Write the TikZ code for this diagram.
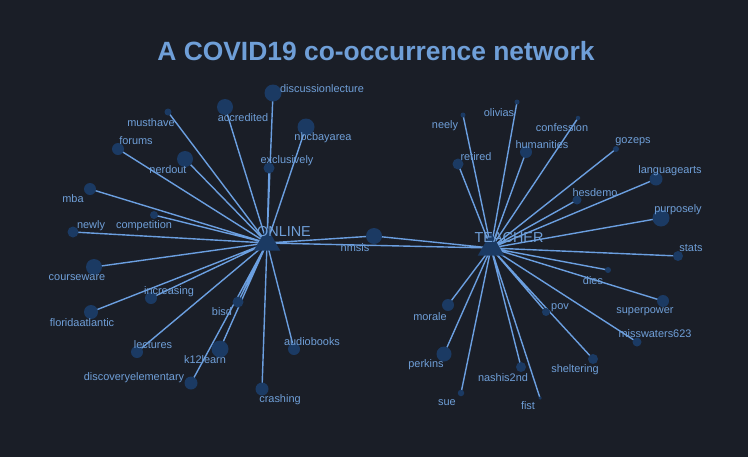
\documentclass[tikz,border=0pt]{standalone}
\usepackage{fontspec}
\setmainfont{Liberation Sans}
\usetikzlibrary{shapes.geometric}

\definecolor{bgcol}{HTML}{1A1E27}
\definecolor{nodefill}{HTML}{1B3A63}
\definecolor{edgecol}{HTML}{6B9FE0}
\definecolor{labelcol}{HTML}{6F9FD8}

\pgfdeclarelayer{bg}
\pgfdeclarelayer{edges}
\pgfsetlayers{bg,edges,main}

\tikzset{dot/.style={circle,fill=nodefill,inner sep=0pt,minimum size=#1*0.75pt}}
\tikzset{hub/.style={regular polygon,regular polygon sides=3,fill=nodefill,inner sep=0pt,minimum size=23pt}}
\tikzset{word/.style={text=labelcol,inner sep=0pt,font=\fontsize{8.2}{10}\selectfont}}
\tikzstyle{link}=[draw=edgecol,line width=1.05pt]

\begin{document}
\begin{tikzpicture}[x=0.75pt,y=-0.75pt]
            \useasboundingbox (0,0) rectangle (748,457);
            \begin{pgfonlayer}{bg}
                \fill [bgcol] (0,0) rectangle (748,457);
            \end{pgfonlayer}

            \node [text=labelcol,font=\bfseries\fontsize{19.8}{24}\selectfont] (title) at (376,51) {A COVID19 co-occurrence network};

            % hubs
            \node [hub] (online) at (267,243) {};
            \node [hub] (teacher) at (491,248) {};
            \node [word,font=\fontsize{10.8}{13}\selectfont] (online-t) at (284,232) {ONLINE};
            \node [word,font=\fontsize{10.8}{13}\selectfont] (teacher-t) at (509,238) {TEACHER};
            \node [dot=16] (nmsis) at (374,236) {};

            % online side
            \node [dot=17] (discussionlecture) at (273,93) {};
            \node [dot=16] (accredited) at (225,107) {};
            \node [dot=7] (musthave) at (168,112) {};
            \node [dot=17] (nbcbayarea) at (306,127) {};
            \node [dot=12] (forums) at (118,149) {};
            \node [dot=16] (nerdout) at (185,159) {};
            \node [dot=11] (exclusively) at (269,168) {};
            \node [dot=12] (mba) at (90,189) {};
            \node [dot=8] (competition) at (154,215) {};
            \node [dot=11] (newly) at (73,232) {};
            \node [dot=16] (courseware) at (94,267) {};
            \node [dot=12] (increasing) at (151,298) {};
            \node [dot=14] (floridaatlantic) at (91,312) {};
            \node [dot=11] (bisd) at (238,302) {};
            \node [dot=12] (lectures) at (137,352) {};
            \node [dot=17] (k12learn) at (220,349) {};
            \node [dot=12] (audiobooks) at (294,349) {};
            \node [dot=13] (discoveryelementary) at (191,383) {};
            \node [dot=13] (crashing) at (262,389) {};

            % teacher side
            \node [dot=5] (neely) at (463,115) {};
            \node [dot=5] (olivias) at (517,102) {};
            \node [dot=4.5] (confession) at (578,118) {};
            \node [dot=12] (humanities) at (526,152) {};
            \node [dot=11] (retired) at (458,164) {};
            \node [dot=6] (gozeps) at (616,149) {};
            \node [dot=13] (languagearts) at (656,179) {};
            \node [dot=9] (hesdemo) at (577,200) {};
            \node [dot=17] (purposely) at (661,218) {};
            \node [dot=10] (stats) at (678,256) {};
            \node [dot=6] (dies) at (608,270) {};
            \node [dot=12] (superpower) at (663,301) {};
            \node [dot=8] (pov) at (546,312) {};
            \node [dot=12] (morale) at (448,305) {};
            \node [dot=9] (misswaters623) at (637,342) {};
            \node [dot=15] (perkins) at (444,354) {};
            \node [dot=10] (sheltering) at (593,359) {};
            \node [dot=10] (nashis2nd) at (521,367) {};
            \node [dot=6.5] (sue) at (461,393) {};
            \node [dot=3.5] (fist) at (540,398) {};

            \begin{pgfonlayer}{edges}
                \draw [link] (online.center) -- (teacher.center)
                    (online.center) -- (nmsis.center) -- (teacher.center)
                    (online.center) -- (discussionlecture.center)
                    (online.center) -- (accredited.center)
                    (online.center) -- (musthave.center)
                    (online.center) -- (nbcbayarea.center)
                    (online.center) -- (forums.center)
                    (online.center) -- (nerdout.center)
                    (online.center) -- (exclusively.center)
                    (online.center) -- (mba.center)
                    (online.center) -- (competition.center)
                    (online.center) -- (newly.center)
                    (online.center) -- (courseware.center)
                    (online.center) -- (increasing.center)
                    (online.center) -- (floridaatlantic.center)
                    (online.center) -- (bisd.center)
                    (online.center) -- (lectures.center)
                    (online.center) -- (k12learn.center)
                    (online.center) -- (audiobooks.center)
                    (online.center) -- (discoveryelementary.center)
                    (online.center) -- (crashing.center);
                \draw [link] (teacher.center) -- (neely.center)
                    (teacher.center) -- (olivias.center)
                    (teacher.center) -- (confession.center)
                    (teacher.center) -- (humanities.center)
                    (teacher.center) -- (retired.center)
                    (teacher.center) -- (gozeps.center)
                    (teacher.center) -- (languagearts.center)
                    (teacher.center) -- (hesdemo.center)
                    (teacher.center) -- (purposely.center)
                    (teacher.center) -- (stats.center)
                    (teacher.center) -- (dies.center)
                    (teacher.center) -- (superpower.center)
                    (teacher.center) -- (pov.center)
                    (teacher.center) -- (morale.center)
                    (teacher.center) -- (misswaters623.center)
                    (teacher.center) -- (perkins.center)
                    (teacher.center) -- (sheltering.center)
                    (teacher.center) -- (nashis2nd.center)
                    (teacher.center) -- (sue.center)
                    (teacher.center) -- (fist.center);
            \end{pgfonlayer}

            % word labels
            \node [word] (nmsis-t) at (355,248) {nmsis};
            \node [word] (discussionlecture-t) at (322,89) {discussionlecture};
            \node [word] (accredited-t) at (243,118) {accredited};
            \node [word] (musthave-t) at (151,123) {musthave};
            \node [word] (nbcbayarea-t) at (323,138) {nbcbayarea};
            \node [word] (forums-t) at (136,141) {forums};
            \node [word] (nerdout-t) at (168,170) {nerdout};
            \node [word] (exclusively-t) at (287,161) {exclusively};
            \node [word] (mba-t) at (73,199) {mba};
            \node [word] (competition-t) at (144,226) {competition};
            \node [word] (newly-t) at (91,226) {newly};
            \node [word] (courseware-t) at (77,278) {courseware};
            \node [word] (increasing-t) at (169,292) {increasing};
            \node [word] (floridaatlantic-t) at (82,323) {floridaatlantic};
            \node [word] (bisd-t) at (222,312) {bisd};
            \node [word] (lectures-t) at (153,345) {lectures};
            \node [word] (k12learn-t) at (205,360) {k12learn};
            \node [word] (audiobooks-t) at (312,342) {audiobooks};
            \node [word] (discoveryelementary-t) at (134,378) {discoveryelementary};
            \node [word] (crashing-t) at (280,400) {crashing};
            \node [word] (neely-t) at (445,126) {neely};
            \node [word] (olivias-t) at (499,113) {olivias};
            \node [word] (confession-t) at (562,128) {confession};
            \node [word] (humanities-t) at (542,145) {humanities};
            \node [word] (retired-t) at (476,157) {retired};
            \node [word] (gozeps-t) at (633,142) {gozeps};
            \node [word] (languagearts-t) at (670,171) {languagearts};
            \node [word] (hesdemo-t) at (595,193) {hesdemo};
            \node [word] (purposely-t) at (678,210) {purposely};
            \node [word] (stats-t) at (691,248) {stats};
            \node [word] (dies-t) at (593,281) {dies};
            \node [word] (superpower-t) at (645,312) {superpower};
            \node [word] (pov-t) at (560,308) {pov};
            \node [word] (morale-t) at (430,317) {morale};
            \node [word] (misswaters623-t) at (655,334) {misswaters623};
            \node [word] (perkins-t) at (426,365) {perkins};
            \node [word] (sheltering-t) at (575,370) {sheltering};
            \node [word] (nashis2nd-t) at (503,378) {nashis2nd};
            \node [word] (sue-t) at (447,403) {sue};
            \node [word] (fist-t) at (528,406) {fist};
        \end{tikzpicture}
\end{document}
